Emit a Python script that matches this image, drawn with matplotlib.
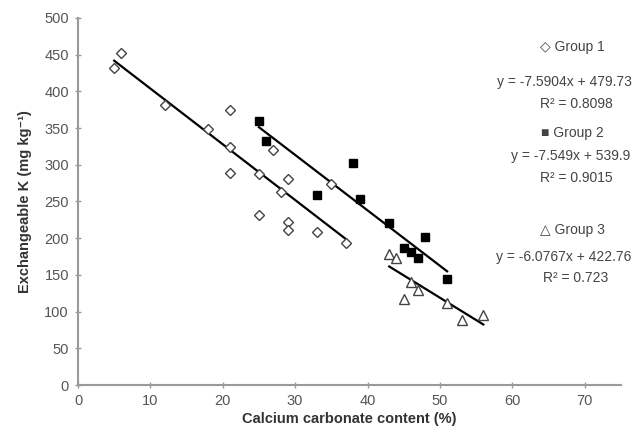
import numpy as np
import matplotlib.pyplot as plt

plt.rcParams['font.family'] = ['Liberation Sans', 'DejaVu Sans']

# Calcium carbonate content (%) vs exchangeable K (mg/kg), three soil groups
g1_x = [5, 6, 12, 18, 21, 21, 21, 25, 25, 27, 28, 29, 29, 29, 33, 35, 37]
g1_y = [432, 452, 381, 349, 375, 324, 289, 287, 231, 320, 263, 280, 222, 211, 209, 274, 194]

g2_x = [25, 26, 33, 38, 39, 43, 45, 46, 47, 48, 51]
g2_y = [360, 333, 259, 302, 253, 221, 186, 181, 173, 202, 145]

g3_x = [43, 44, 45, 46, 47, 51, 53, 56]
g3_y = [178, 173, 117, 140, 130, 112, 89, 95]

# linear trend lines (slope, intercept)
fits = [(-7.5904, 479.73), (-7.549, 539.9), (-6.0767, 422.76)]
eq_text = ["y = -7.5904x + 479.73", "y = -7.549x + 539.9", "y = -6.0767x + 422.76"]
r2_text = ["R² = 0.8098", "R² = 0.9015", "R² = 0.723"]

fig = plt.figure(figsize=(6.42, 4.38), dpi=100)
ax = fig.add_axes([0.1215, 0.121, 0.8455, 0.838])

gray = '#555555'
ax.plot(g1_x, g1_y, 'D', ms=5.2, mfc='white', mec='#444444', mew=1.0, zorder=3)
ax.plot(g2_x, g2_y, 's', ms=6.3, mfc='black', mec='black', zorder=3)
ax.plot(g3_x, g3_y, '^', ms=6.5, mfc='white', mec='#444444', mew=1.0, zorder=3)

for xs, (m, b) in zip([g1_x, g2_x, g3_x], fits):
    xx = np.array([min(xs), max(xs)])
    ax.plot(xx, m * xx + b, color='black', lw=1.6, zorder=2)

ax.set_xlim(0, 75)
ax.set_ylim(0, 500)
ax.set_xticks(range(0, 71, 10))
ax.set_yticks(range(0, 501, 50))
for s in ['top', 'right']:
    ax.spines[s].set_visible(False)
for s in ['left', 'bottom']:
    ax.spines[s].set_color('#9a9a9a')
    ax.spines[s].set_linewidth(1.5)
ax.tick_params(direction='inout', length=5, width=1, color='#9a9a9a',
               labelsize=10.5, labelcolor=gray, pad=4)

ax.set_xlabel('Calcium carbonate content (%)', fontsize=10.5, fontweight='bold',
              color='#333333', labelpad=3)
ax.set_ylabel('Exchangeable K (mg kg⁻¹)', fontsize=10.5, fontweight='bold',
              color='#333333', labelpad=9)

# group labels with fit equations on the right
labels = ['◇ Group 1', '■ Group 2', '△ Group 3']
label_y = [47, 133, 230]
eq_y = [82, 156, 257]
r2_y = [104, 178, 278]
eq_x = [564, 571, 564]
for i in range(3):
    fig.text(572 / 642, 1 - label_y[i] / 438, labels[i], ha='center', va='center',
             fontsize=10, color='#444444')
    fig.text(eq_x[i] / 642, 1 - eq_y[i] / 438, eq_text[i], ha='center', va='center',
             fontsize=10, color='#444444')
    fig.text(576 / 642, 1 - r2_y[i] / 438, r2_text[i], ha='center', va='center',
             fontsize=10, color='#444444')

fig.savefig('out.png', dpi=100)
